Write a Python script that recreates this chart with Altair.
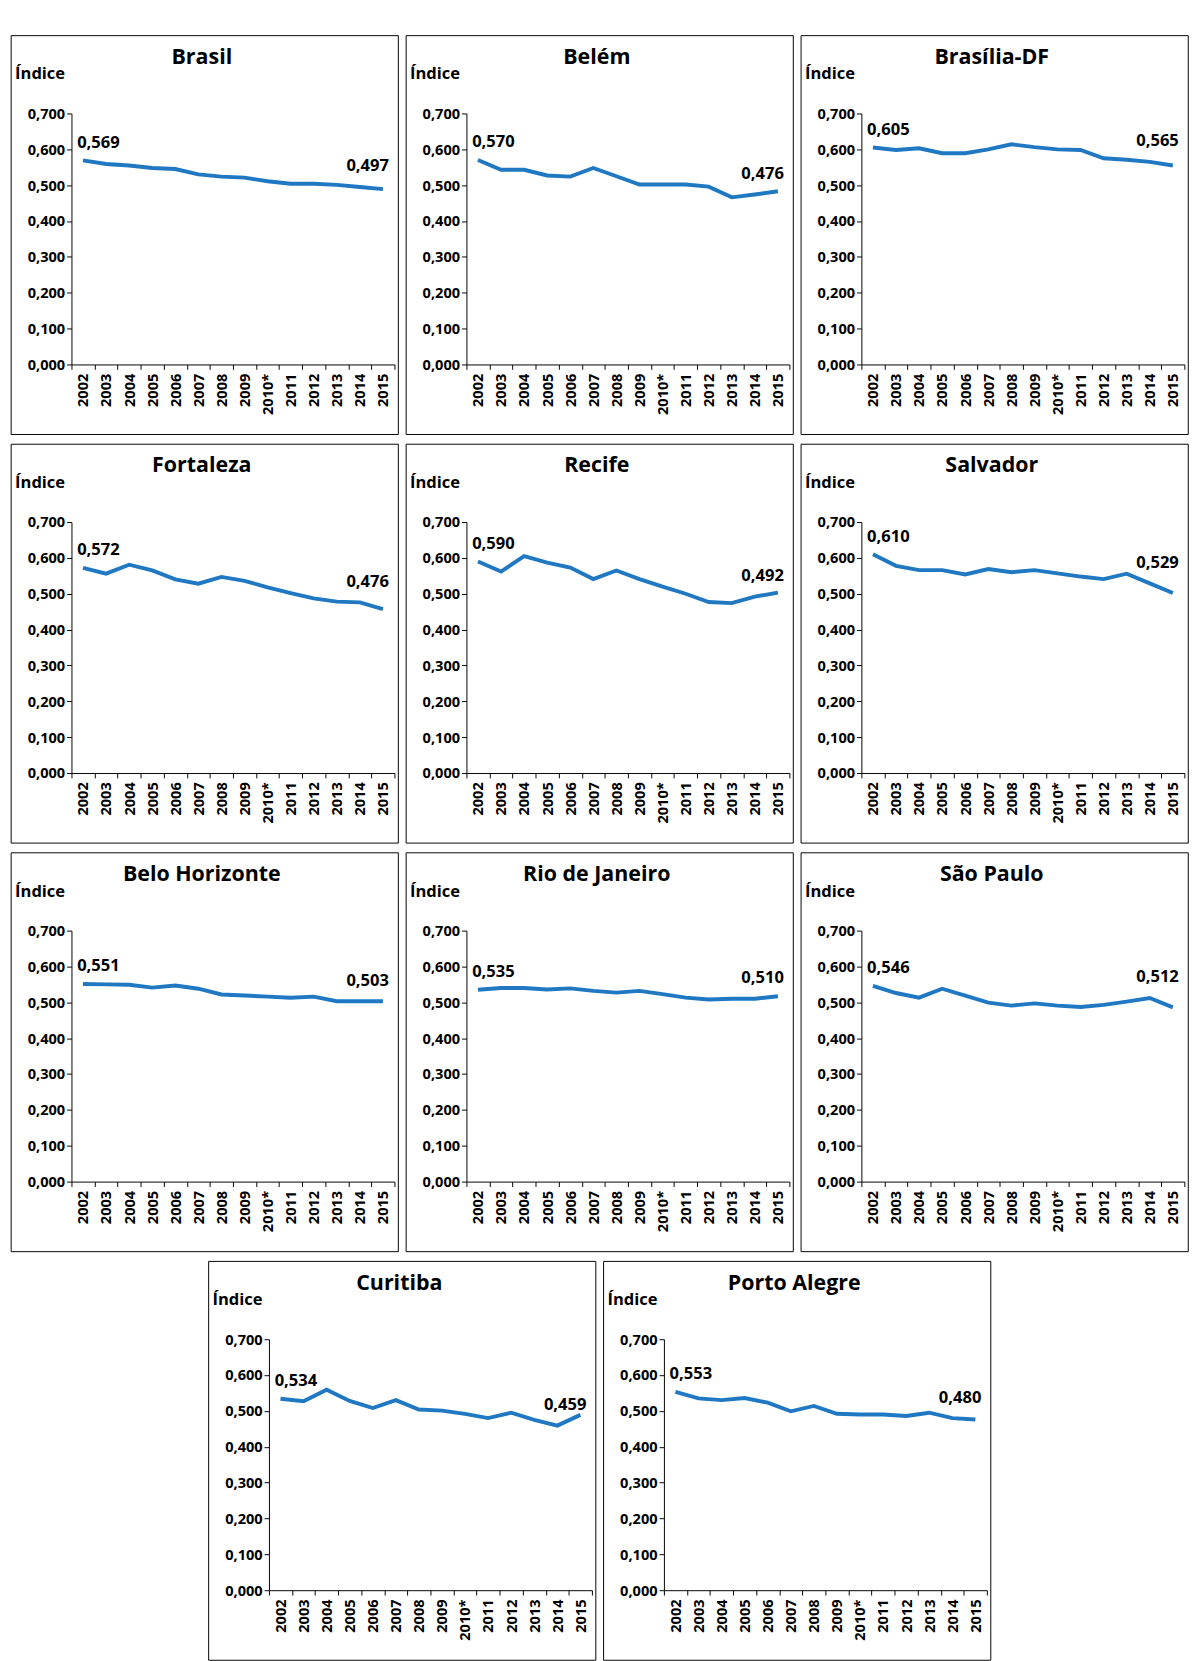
import altair as alt
import pandas as pd

years = ['2002', '2003', '2004', '2005', '2006', '2007', '2008',
         '2009', '2010*', '2011', '2012', '2013', '2014', '2015']

brasil = [0.569, 0.559, 0.555, 0.548, 0.545, 0.530, 0.524, 0.521, 0.511, 0.504, 0.504, 0.501, 0.495, 0.489]
belem = [0.570, 0.543, 0.543, 0.527, 0.524, 0.548, 0.525, 0.502, 0.502, 0.502, 0.496, 0.466, 0.474, 0.483]
brasilia = [0.605, 0.598, 0.603, 0.589, 0.589, 0.600, 0.614, 0.606, 0.600, 0.598, 0.575, 0.571, 0.565, 0.555]
fortaleza = [0.572, 0.556, 0.581, 0.565, 0.540, 0.528, 0.547, 0.536, 0.518, 0.502, 0.487, 0.478, 0.476, 0.457]
recife = [0.590, 0.562, 0.605, 0.587, 0.573, 0.541, 0.565, 0.541, 0.520, 0.500, 0.477, 0.474, 0.492, 0.503]
salvador = [0.610, 0.578, 0.566, 0.566, 0.554, 0.569, 0.560, 0.566, 0.557, 0.548, 0.541, 0.556, 0.529, 0.502]
bh = [0.551, 0.550, 0.549, 0.541, 0.547, 0.538, 0.522, 0.519, 0.516, 0.513, 0.516, 0.503, 0.503, 0.503]
rio = [0.535, 0.540, 0.540, 0.536, 0.539, 0.532, 0.527, 0.532, 0.523, 0.513, 0.508, 0.510, 0.510, 0.517]
sp = [0.546, 0.526, 0.513, 0.538, 0.519, 0.499, 0.491, 0.497, 0.491, 0.487, 0.493, 0.502, 0.512, 0.486]
curitiba = [0.534, 0.527, 0.559, 0.528, 0.508, 0.530, 0.504, 0.501, 0.492, 0.480, 0.495, 0.475, 0.459, 0.489]
poa = [0.553, 0.535, 0.530, 0.536, 0.523, 0.499, 0.514, 0.492, 0.490, 0.490, 0.486, 0.495, 0.480, 0.476]

y_ticks = [0, 0.1, 0.2, 0.3, 0.4, 0.5, 0.6, 0.7]

# (name, series, first label, last label)
panels = [
    ('Brasil', brasil, '0,569', '0,497'),
    ('Belém', belem, '0,570', '0,476'),
    ('Brasília-DF', brasilia, '0,605', '0,565'),
    ('Fortaleza', fortaleza, '0,572', '0,476'),
    ('Recife', recife, '0,590', '0,492'),
    ('Salvador', salvador, '0,610', '0,529'),
    ('Belo Horizonte', bh, '0,551', '0,503'),
    ('Rio de Janeiro', rio, '0,535', '0,510'),
    ('São Paulo', sp, '0,546', '0,512'),
    ('Curitiba', curitiba, '0,534', '0,459'),
    ('Porto Alegre', poa, '0,553', '0,480'),
]

W, H = 332, 258
FONT = 'Open Sans'
BLUE = '#1F78C1'


def panel(name, vals, first_lab, last_lab):
    df = pd.DataFrame({'ano': years, 'indice': vals})
    x = alt.X('ano:O', sort=years, title=None,
              scale=alt.Scale(type='band', domain=years, paddingInner=0, paddingOuter=0),
              axis=alt.Axis(labelAngle=-90, tickBand='extent', labelFontWeight='bold',
                            labelFontSize=15, labelFont=FONT, labelColor='black',
                            domainColor='black', tickColor='black', labelPadding=4,
                            labelOverlap=False))
    y = alt.Y('indice:Q', title=None, scale=alt.Scale(domain=[0, 0.7], nice=False),
              axis=alt.Axis(values=y_ticks, grid=False,
                            labelExpr="replace(format(datum.value, '.3f'), '.', ',')",
                            labelFontWeight='bold', labelFontSize=15, labelFont=FONT,
                            labelColor='black', domainColor='black', tickColor='black',
                            labelOverlap=False, labelFlush=False))
    line = alt.Chart(df).mark_line(color=BLUE, strokeWidth=4).encode(x=x, y=y)

    labs = pd.DataFrame({'ano': [years[0], years[12]], 'indice': [vals[0], vals[12]],
                         'lab': [first_lab, last_lab]})
    first = alt.Chart(labs.iloc[[0]]).mark_text(
        align='left', dx=-6, dy=-18, fontSize=17, fontWeight='bold', font=FONT, color='black'
    ).encode(x=x, y=y, text='lab:N')
    last = alt.Chart(labs.iloc[[1]]).mark_text(
        align='center', dx=8, dy=-21, fontSize=17, fontWeight='bold', font=FONT, color='black'
    ).encode(x=x, y=y, text='lab:N')

    one = pd.DataFrame({'a': [0]})
    frame = alt.Chart(one).mark_rect(fill=None, stroke='black', strokeWidth=1, clip=False).encode(
        x=alt.value(-62), x2=alt.value(W + 4), y=alt.value(-80), y2=alt.value(H + 72))
    title = alt.Chart(one).mark_text(fontSize=22, fontWeight='bold', font=FONT, color='black',
                                     baseline='middle').encode(
        x=alt.value(W / 2 - 32), y=alt.value(-58), text=alt.value(name))
    ind = alt.Chart(one).mark_text(fontSize=17, fontWeight='bold', font=FONT, color='black',
                                   align='left', baseline='middle').encode(
        x=alt.value(-58), y=alt.value(-40), text=alt.value('Índice'))

    return alt.layer(line, first, last, frame, title, ind).properties(
        width=W, height=H, view=alt.ViewBackground(stroke=None))


charts = [panel(*p) for p in panels]
rows = [alt.hconcat(*charts[i:i + 3], spacing=6) for i in range(0, 9, 3)]
rows.append(alt.hconcat(*charts[9:], spacing=6))

chart = alt.vconcat(*rows, spacing=8, center=True).configure_view(
    stroke=None).configure(
    padding={'left': 2, 'top': 4, 'right': 0, 'bottom': 0})

chart.save('out.html', embed_options={'renderer': 'svg', 'actions': False})
